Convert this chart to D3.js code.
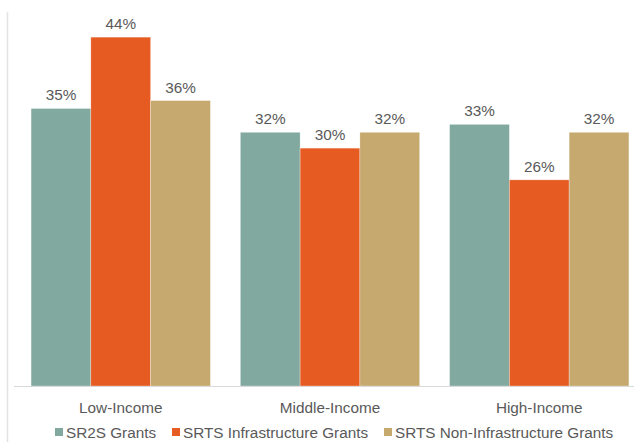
<!DOCTYPE html>
<html><head><meta charset="utf-8">
<script src="https://cdn.jsdelivr.net/npm/d3@7"></script>
<style>body{margin:0;background:#fff}svg{display:block}text{font-family:"Liberation Sans",Arial,sans-serif}</style>
</head><body>
<script>
const categories = ["Low-Income", "Middle-Income", "High-Income"];
const seriesNames = ["SR2S Grants", "SRTS Infrastructure Grants", "SRTS Non-Infrastructure Grants"];
const sr2s = [0.35, 0.32, 0.33];
const srtsInfra = [0.44, 0.30, 0.26];
const srtsNonInfra = [0.36, 0.32, 0.32];
const colors = ["#82A99F", "#E55B22", "#C5A96F"];

const W = 634, H = 442;
const FS = 15.3;
const svg = d3.select("body").append("svg").attr("width", W).attr("height", H);
const series = [sr2s, srtsInfra, srtsNonInfra];

const x0 = d3.scaleBand().domain(categories).range([16, 644]).paddingInner(0.143).paddingOuter(0.072);
const x1 = d3.scaleBand().domain(seriesNames).range([0, x0.bandwidth()]);
const y = d3.scaleLinear().domain([0, 0.45]).range([386, 29.2]);

// left light line
svg.append("line").attr("x1", 7.5).attr("x2", 7.5).attr("y1", 12).attr("y2", H)
  .attr("stroke", "#e3e3e3").attr("stroke-width", 1.5);

const g = svg.append("g");
categories.forEach((c, ci) => {
  series.forEach((s, si) => {
    const v = s[ci];
    g.append("rect")
      .attr("x", x0(c) + x1(seriesNames[si]))
      .attr("y", y(v))
      .attr("width", x1.bandwidth())
      .attr("height", y(0) - y(v))
      .attr("fill", colors[si])
      .attr("stroke", "rgba(255,255,255,0.5)").attr("stroke-width", 0.6);
    g.append("text")
      .attr("x", x0(c) + x1(seriesNames[si]) + x1.bandwidth() / 2)
      .attr("y", y(v) - 8)
      .attr("text-anchor", "middle")
      .attr("font-size", FS).attr("fill", "#595959")
      .text(d3.format(".0%")(v));
  });
});

// baseline axis
const axis = d3.axisBottom(x0).tickSize(0).tickPadding(16);
const ag = svg.append("g").attr("transform", "translate(0,386)").call(axis);
ag.select(".domain").remove();
svg.append("line").attr("x1", 14).attr("x2", W).attr("y1", 386.5).attr("y2", 386.5)
  .attr("stroke", "#d9d9d9").attr("stroke-width", 1);
ag.selectAll("text").attr("font-size", FS).attr("fill", "#595959")
  .style("font-family", '"Liberation Sans",Arial,sans-serif');

// legend
const legendX = [55, 172, 384];
const lg = svg.append("g");
seriesNames.forEach((n, i) => {
  lg.append("rect").attr("x", legendX[i]).attr("y", 428).attr("width", 8).attr("height", 8).attr("fill", colors[i]);
  lg.append("text").attr("x", legendX[i] + 11).attr("y", 437.5).attr("font-size", FS).attr("fill", "#595959").text(n);
});
</script>
</body></html>
